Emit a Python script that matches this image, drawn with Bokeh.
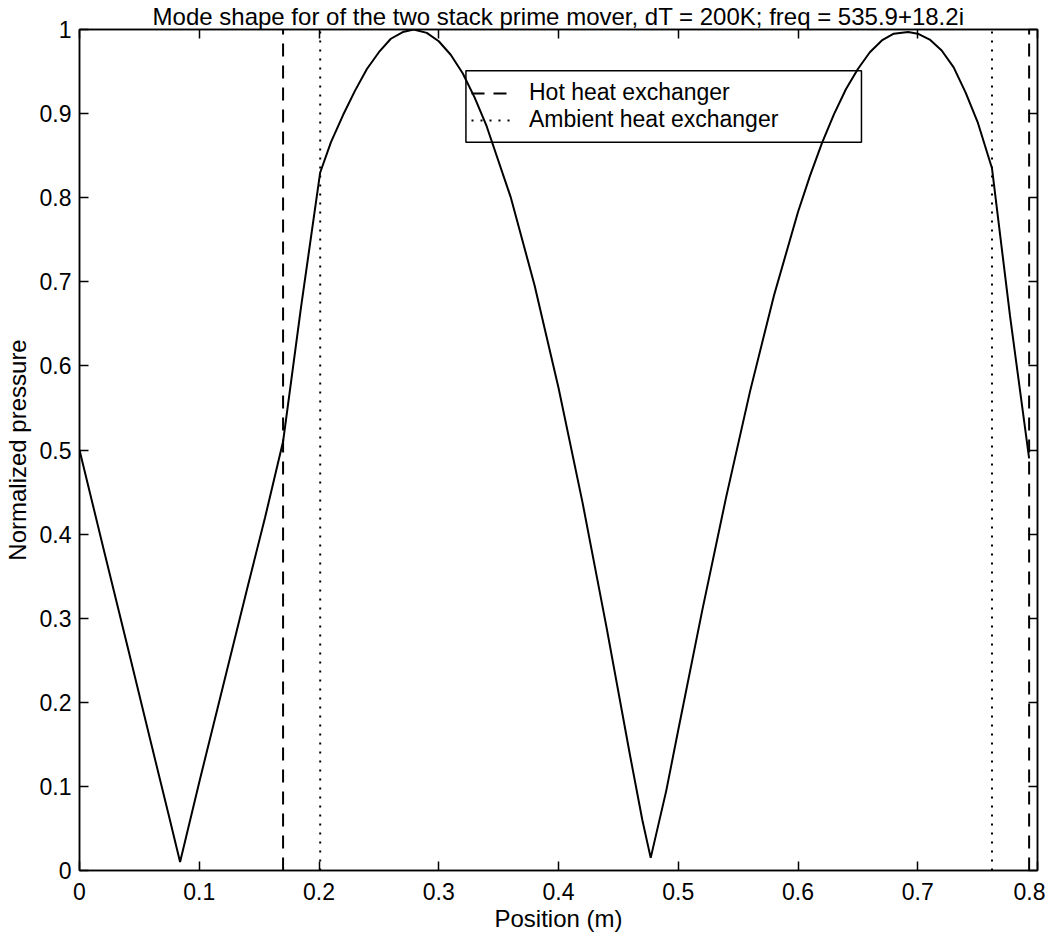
from bokeh.plotting import figure
from bokeh.models import Range1d, FixedTicker, LinearAxis, Legend, LegendItem, BoxAnnotation
from bokeh.embed import file_html
from bokeh.resources import INLINE

# ---------------- data ----------------
title_text = "Mode shape for of the two stack prime mover, dT = 200K; freq = 535.9+18.2i"
x_label = "Position (m)"
y_label = "Normalized pressure"

x_ticks = [0, 0.1, 0.2, 0.3, 0.4, 0.5, 0.6, 0.7, 0.8]
x_tick_labels = ["0", "0.1", "0.2", "0.3", "0.4", "0.5", "0.6", "0.7", "0.8"]
y_ticks = [0, 0.1, 0.2, 0.3, 0.4, 0.5, 0.6, 0.7, 0.8, 0.9, 1]
y_tick_labels = ["0", "0.1", "0.2", "0.3", "0.4", "0.5", "0.6", "0.7", "0.8", "0.9", "1"]

position = [0.000, 0.020, 0.040, 0.060, 0.075, 0.084, 0.100, 0.120, 0.140, 0.155, 0.170,
            0.185, 0.201, 0.210, 0.220, 0.230, 0.240, 0.250, 0.260, 0.270, 0.279, 0.290,
            0.300, 0.310, 0.320, 0.330, 0.340, 0.360, 0.380, 0.400, 0.420, 0.440, 0.460,
            0.470, 0.477, 0.490, 0.500, 0.520, 0.540, 0.560, 0.580, 0.600, 0.610, 0.620,
            0.630, 0.640, 0.650, 0.660, 0.670, 0.680, 0.692, 0.700, 0.710, 0.720, 0.730,
            0.740, 0.750, 0.762, 0.777, 0.793]
pressure = [0.500, 0.383, 0.267, 0.150, 0.063, 0.010, 0.105, 0.220, 0.335, 0.420, 0.510,
            0.670, 0.830, 0.866, 0.898, 0.927, 0.953, 0.973, 0.989, 0.997, 1.000, 0.996,
            0.986, 0.970, 0.948, 0.919, 0.885, 0.801, 0.696, 0.574, 0.438, 0.290, 0.135,
            0.060, 0.015, 0.095, 0.167, 0.309, 0.444, 0.570, 0.684, 0.783, 0.826, 0.865,
            0.899, 0.929, 0.953, 0.973, 0.987, 0.995, 0.997, 0.995, 0.988, 0.975, 0.955,
            0.925, 0.890, 0.835, 0.660, 0.490]

hot_hx_x = [0.170, 0.793]
ambient_hx_x = [0.201, 0.762]
y_span = [0, 1]
legend_labels = ["Hot heat exchanger", "Ambient heat exchanger"]

FONT = "Liberation Sans"

p = figure(width=1045, height=934, output_backend="svg", toolbar_location=None,
           x_range=Range1d(x_ticks[0], x_ticks[-1]), y_range=Range1d(y_ticks[0], y_ticks[-1]),
           min_border_left=78, min_border_right=8, min_border_top=20, min_border_bottom=60,
           title=title_text)

p.title.text_font = FONT
p.title.text_font_size = "24px"
p.title.text_font_style = "normal"
p.title.text_color = "black"
p.title.align = "center"
p.title.standoff = 0

p.xgrid.visible = False
p.ygrid.visible = False
p.outline_line_color = "black"
p.outline_line_width = 1.5
p.background_fill_color = "white"
p.border_fill_color = "white"

x_over = {t: l for t, l in zip(x_ticks, x_tick_labels)}
y_over = {t: l for t, l in zip(y_ticks, y_tick_labels)}


def style_axis(ax, ticks, over, show_labels):
    ax.ticker = FixedTicker(ticks=ticks)
    ax.minor_tick_line_color = None
    ax.major_tick_in = 9
    ax.major_tick_out = 0
    ax.major_tick_line_width = 1.5
    ax.axis_line_width = 1.5
    ax.axis_line_color = "black"
    ax.major_tick_line_color = "black"
    ax.major_label_text_font = FONT
    ax.major_label_text_color = "black"
    if show_labels:
        ax.major_label_overrides = over
        ax.major_label_text_font_size = "23px"
    else:
        ax.major_label_overrides = {t: "" for t in ticks}
        ax.major_label_text_font_size = "1px"
        ax.major_label_standoff = 0


xa = p.xaxis[0]
ya = p.yaxis[0]
style_axis(xa, x_ticks, x_over, True)
style_axis(ya, y_ticks, y_over, True)
xa.major_label_standoff = 12
ya.major_label_standoff = 8
xa.axis_label = x_label
ya.axis_label = y_label
for ax in (xa, ya):
    ax.axis_label_text_font = FONT
    ax.axis_label_text_font_size = "24px"
    ax.axis_label_text_font_style = "normal"
    ax.axis_label_text_color = "black"
xa.axis_label_standoff = 2
ya.axis_label_standoff = 6

top_ax = LinearAxis()
style_axis(top_ax, x_ticks, x_over, False)
p.add_layout(top_ax, "above")
right_ax = LinearAxis()
style_axis(right_ax, y_ticks, y_over, False)
p.add_layout(right_ax, "right")

# mode shape curve
p.line(position, pressure, line_color="black", line_width=2)

# heat exchanger markers
hot = p.segment(x0=hot_hx_x, y0=[y_span[0]] * len(hot_hx_x), x1=hot_hx_x, y1=[y_span[1]] * len(hot_hx_x),
                line_color="black", line_width=2, line_dash="13 9")
amb = p.segment(x0=ambient_hx_x, y0=[y_span[0]] * len(ambient_hx_x), x1=ambient_hx_x,
                y1=[y_span[1]] * len(ambient_hx_x),
                line_color="black", line_width=2, line_dash="2 7")

# legend box (MATLAB style)
box = BoxAnnotation(left=0.3227, right=0.653, bottom=0.866, top=0.951,
                    fill_alpha=0, line_color="black", line_alpha=1, line_width=1.5)
p.add_layout(box)

legend = Legend(items=[LegendItem(label=legend_labels[0], renderers=[hot]),
                       LegendItem(label=legend_labels[1], renderers=[amb])],
                location=(390, 735), orientation="vertical")
legend.background_fill_alpha = 0
legend.border_line_alpha = 0
legend.label_text_font = FONT
legend.label_text_font_size = "23px"
legend.label_text_color = "black"
legend.glyph_width = 44
legend.glyph_height = 20
legend.label_height = 20
legend.label_standoff = 14
legend.spacing = 0
legend.padding = 2
legend.margin = 0
p.add_layout(legend, "center")

open("out.html", "w").write(file_html(p, INLINE))
